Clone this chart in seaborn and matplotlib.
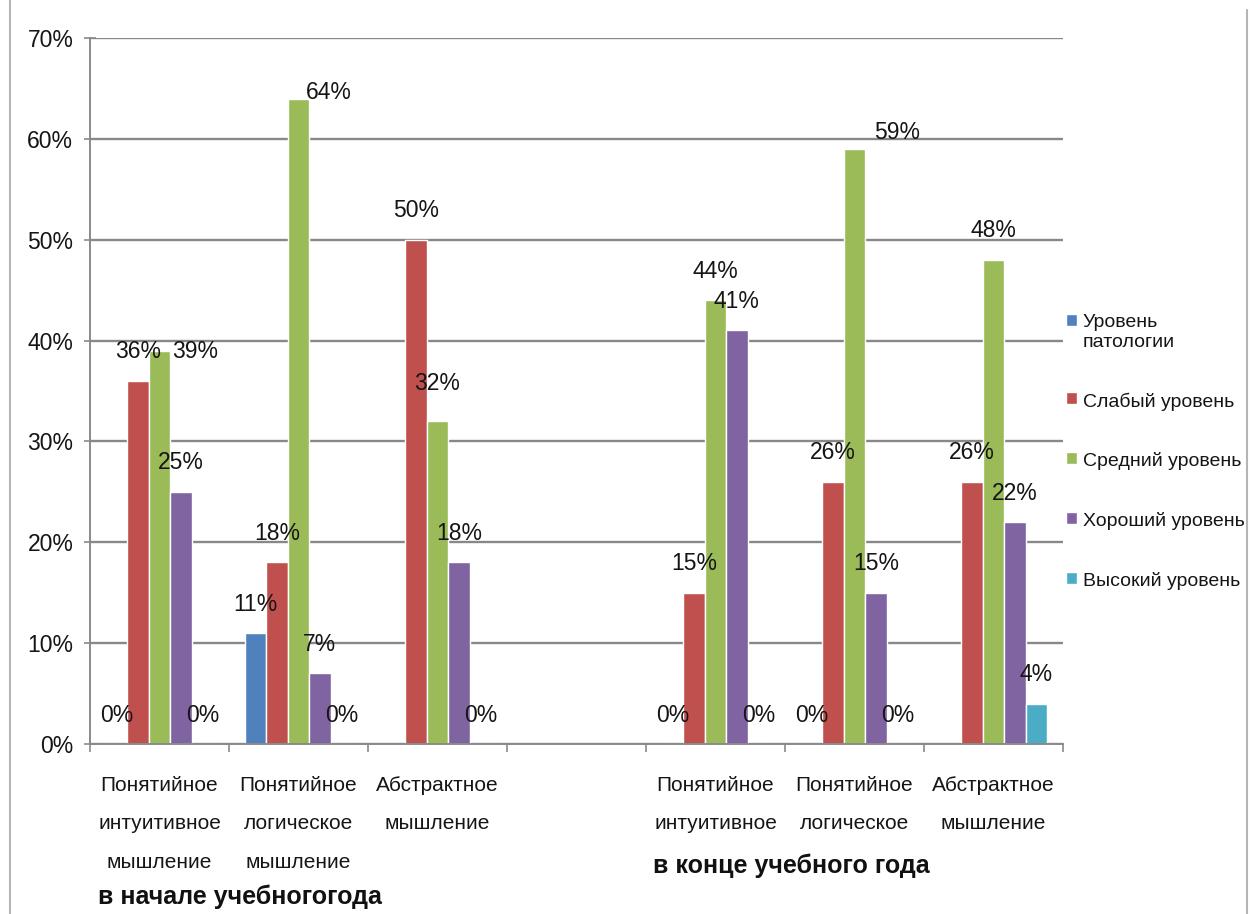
import numpy as np
import pandas as pd
import matplotlib
matplotlib.use("Agg")
import matplotlib.pyplot as plt
import seaborn as sns
from matplotlib.ticker import PercentFormatter, FixedLocator
from matplotlib.lines import Line2D

# ---------------- data ----------------
slot_keys = ["start_intuitive", "start_logical", "start_abstract", "gap",
             "end_intuitive", "end_logical", "end_abstract"]
categories = ["Понятийное\nинтуитивное\nмышление",
              "Понятийное\nлогическое\nмышление",
              "Абстрактное\nмышление",
              "",
              "Понятийное\nинтуитивное",
              "Понятийное\nлогическое",
              "Абстрактное\nмышление"]
series = ["Уровень патологии", "Слабый уровень", "Средний уровень",
          "Хороший уровень", "Высокий уровень"]
legend_labels = ["Уровень\nпатологии", "Слабый уровень", "Средний уровень",
                 "Хороший уровень", "Высокий уровень"]
colors = ["#4F81BD", "#C0504D", "#9BBB59", "#8064A2", "#4BACC6"]

nan = np.nan
pathology = [0.00, 0.11, nan, nan, 0.00, 0.00, nan]
weak      = [0.36, 0.18, 0.50, nan, 0.15, 0.26, 0.26]
medium    = [0.39, 0.64, 0.32, nan, 0.44, 0.59, 0.48]
good      = [0.25, 0.07, 0.18, nan, 0.41, 0.15, 0.22]
high      = [0.00, 0.00, 0.00, nan, 0.00, 0.00, 0.04]
group_labels = ["в начале учебногогода", "в конце учебного года"]

values = [pathology, weak, medium, good, high]
rows = []
for s, vals in zip(series, values):
    for k, v in zip(slot_keys, vals):
        if not np.isnan(v):
            rows.append({"slot": k, "series": s, "value": v})
df = pd.DataFrame(rows)

# ---------------- style ----------------
sns.set_theme(style="white")
plt.rcParams["font.family"] = ["Liberation Sans", "DejaVu Sans"]
plt.rcParams["text.color"] = "#151515"

W, H = 1257, 914
fig = plt.figure(figsize=(W / 100, H / 100), dpi=100)
fig.patch.set_facecolor("white")
ax = fig.add_axes([90 / W, 1 - 744 / H, (1063 - 90) / W, (744 - 38) / H])

sns.barplot(data=df, x="slot", y="value", hue="series", order=slot_keys,
            hue_order=series, palette=colors, saturation=1, width=0.77,
            errorbar=None, ax=ax)

ax.set_xlim(-0.5, len(slot_keys) - 0.5)
ax.set_ylim(0, 0.70)
ax.set_xlabel("")
ax.set_ylabel("")

# y axis
ax.set_yticks(np.arange(0, 0.71, 0.1))
ax.yaxis.set_major_formatter(PercentFormatter(1.0, decimals=0))
ax.tick_params(axis="y", direction="inout", length=8, width=1.2, color="#8a8a8a",
               labelsize=16.5, pad=8, left=True, labelcolor="#151515")
ax.grid(axis="y", color="#888888", linewidth=1.7)
ax.set_axisbelow(True)

# x axis
ax.set_xticks(range(len(slot_keys)))
ax.set_xticklabels(categories, fontsize=15, linespacing=2.3, color="#151515")
ax.xaxis.set_minor_locator(FixedLocator(np.arange(-0.5, len(slot_keys), 1.0)))
ax.tick_params(axis="x", which="major", length=0, pad=23)
ax.tick_params(axis="x", which="minor", direction="out", length=6, width=1.2,
               color="#8a8a8a", bottom=True)

for side in ["top", "right"]:
    ax.spines[side].set_visible(False)
for side in ["left", "bottom"]:
    ax.spines[side].set_color("#8a8a8a")
    ax.spines[side].set_linewidth(1.4)

# data labels (a few were moved by hand in the original)
label_adjust = {(2, 0): (36, -30), (2, 1): (30, -23), (2, 2): (0, 9), (2, 5): (43, -13)}
for ci, cont in enumerate(ax.containers):
    for bar in cont:
        h = bar.get_height()
        if np.isnan(h):
            continue
        xc = bar.get_x() + bar.get_width() / 2
        slot = int(round(xc))
        dx, dy = label_adjust.get((ci, slot), (0, 0))
        ax.annotate(f"{h * 100:.0f}%", (xc, h), xytext=(dx, 29 + dy),
                    textcoords="offset pixels", ha="center", va="center",
                    fontsize=16.5, color="#151515")

# legend
handles, _ = ax.get_legend_handles_labels()
if ax.get_legend() is not None:
    ax.get_legend().remove()
leg = ax.legend(handles[:len(series)], legend_labels, loc="center left",
                bbox_to_anchor=(1066 / W, 1 - 452 / H), bbox_transform=fig.transFigure,
                frameon=False, fontsize=14, handlelength=0.55, handleheight=0.55,
                handletextpad=0.3, labelspacing=2.15, borderaxespad=0, borderpad=0)
for t in leg.get_texts():
    t.set_color("#151515")
try:
    for col in leg._legend_handle_box.get_children():
        for item in col.get_children():
            item.align = "top"
except Exception:
    pass

# group labels
fig.text(98 / W, 1 - 897 / H, group_labels[0], ha="left", va="center",
         fontsize=18, fontweight="bold", color="#111111")
fig.text(653 / W, 1 - 866 / H, group_labels[1], ha="left", va="center",
         fontsize=18, fontweight="bold", color="#111111")

# chart frame
fig.add_artist(Line2D([10 / W, 10 / W], [0, 1], transform=fig.transFigure,
                      color="#b5b5b5", linewidth=1.5))
fig.add_artist(Line2D([1247 / W, 1247 / W], [0, 1 - 10 / H], transform=fig.transFigure,
                      color="#b5b5b5", linewidth=1.5))

fig.savefig("out.png", dpi=100, facecolor="white")
